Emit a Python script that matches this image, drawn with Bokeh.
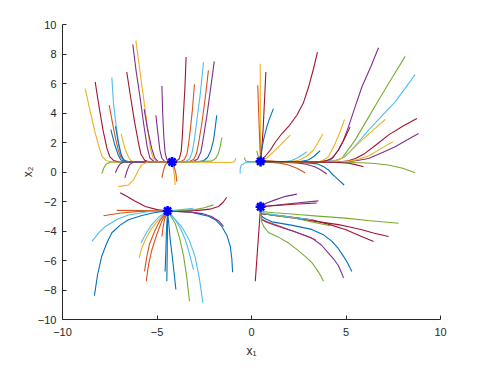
from bokeh.plotting import figure
from bokeh.models import Range1d, FixedTicker
from bokeh.embed import file_html
from bokeh.resources import INLINE

# MATLAB default colour order
C = {"b": "#0072BD", "o": "#D95319", "y": "#EDB120", "p": "#7E2F8E",
     "g": "#77AC30", "c": "#4DBEEE", "r": "#A2142F"}

# equilibria
eq_x = [-4.2, 0.48, -4.44, 0.48]
eq_y = [0.68, 0.72, -2.64, -2.36]

# ---- trajectories converging to upper-left equilibrium ----
tl_col = ["y", "r", "c", "o", "b", "b", "y", "r", "p", "y", "p", "p", "p",
          "g", "p", "p", "y", "o", "y", "o",
          "r", "o", "c", "o", "p", "b", "g", "y"]
tl_x = [
    [-8.80, -8.55, -8.30, -8.05, -7.9, -7.7, -7.4, -4.2],
    [-8.27, -8.05, -7.85, -7.65, -7.5, -7.3, -7.0, -4.2],
    [-7.39, -7.3, -7.15, -7.0, -6.88, -6.7, -6.4, -4.2],
    [-7.53, -7.35, -7.2, -7.05, -6.92, -6.75, -6.45, -4.2],
    [-7.2, -7.05, -6.9, -6.78, -6.6, -4.2],
    [-7.44, -7.25, -7.05, -6.92, -6.7, -4.2],
    [-6.9, -6.7, -6.52, -6.4, -6.2, -4.2],
    [-6.6, -6.4, -6.2, -6.0, -5.85, -5.65, -5.4, -4.2],
    [-6.28, -6.1, -5.9, -5.7, -5.52, -5.38, -5.15, -4.2],
    [-6.12, -5.92, -5.72, -5.5, -5.35, -5.2, -5.0, -4.2],
    [-5.68, -5.5, -5.28, -5.12, -4.95, -4.2],
    [-5.06, -4.95, -4.85, -4.75, -4.6, -4.2],
    [-4.74, -4.7, -4.64, -4.57, -4.48, -4.35, -4.2],
    [-7.92, -7.82, -7.7, -7.45, -4.2],
    [-7.2, -7.08, -6.95, -6.75, -4.2],
    [-6.7, -6.58, -6.45, -6.25, -4.2],
    [-7.04, -6.5, -6.24, -5.98, -5.8, -5.5, -4.2],
    [-4.74, -4.65, -4.55, -4.4, -4.2],
    [-4.04, -4.08, -4.15, -4.2],
    [-3.95, -4.0, -4.1, -4.2],
    [-3.46, -3.52, -3.6, -3.66, -3.72, -3.82, -4.0, -4.2],
    [-3.02, -3.12, -3.24, -3.34, -3.42, -3.55, -3.75, -4.2],
    [-2.54, -2.7, -2.89, -3.02, -3.14, -3.28, -3.5, -4.2],
    [-2.28, -2.45, -2.63, -2.78, -2.9, -3.05, -3.3, -4.2],
    [-1.97, -2.17, -2.37, -2.55, -2.68, -2.85, -3.1, -4.2],
    [-1.84, -1.92, -2.01, -2.15, -2.32, -2.52, -2.8, -4.2],
    [-1.57, -1.65, -1.75, -1.9, -2.1, -4.2],
    [-0.83, -0.88, -0.98, -1.2, -4.2],
]
tl_y = [
    [5.66, 4.2, 2.8, 1.6, 1.05, 0.78, 0.68, 0.68],
    [6.10, 4.3, 2.8, 1.6, 1.05, 0.78, 0.68, 0.68],
    [6.40, 4.6, 3.06, 1.7, 1.05, 0.78, 0.68, 0.68],
    [4.53, 3.3, 2.3, 1.5, 1.02, 0.78, 0.68, 0.68],
    [3.1, 2.0, 1.2, 0.85, 0.68, 0.68],
    [2.88, 1.9, 1.15, 0.83, 0.68, 0.68],
    [2.6, 1.6, 1.05, 0.8, 0.68, 0.68],
    [6.78, 5.1, 3.5, 2.1, 1.2, 0.8, 0.68, 0.68],
    [8.65, 6.8, 5.09, 3.2, 1.7, 0.95, 0.7, 0.68],
    [8.92, 7.0, 5.09, 3.0, 1.6, 0.92, 0.7, 0.68],
    [4.26, 2.9, 1.6, 0.95, 0.72, 0.68],
    [3.85, 2.6, 1.5, 0.95, 0.72, 0.68],
    [5.83, 4.0, 2.4, 1.3, 0.85, 0.7, 0.68],
    [-0.1, 0.25, 0.52, 0.68, 0.68],
    [-0.05, 0.3, 0.55, 0.68, 0.68],
    [-0.4, 0.1, 0.5, 0.68, 0.68],
    [-0.99, -0.88, -0.54, 0.14, 0.5, 0.68, 0.68],
    [-0.4, 0.15, 0.52, 0.66, 0.68],
    [-0.88, -0.2, 0.35, 0.68],
    [-0.65, -0.1, 0.4, 0.68],
    [7.79, 5.8, 3.97, 2.4, 1.4, 0.9, 0.72, 0.68],
    [5.95, 4.3, 2.84, 1.8, 1.2, 0.85, 0.7, 0.68],
    [7.45, 5.4, 3.51, 2.2, 1.35, 0.88, 0.7, 0.68],
    [6.89, 5.0, 3.29, 2.1, 1.3, 0.87, 0.7, 0.68],
    [7.5, 5.6, 3.74, 2.3, 1.35, 0.88, 0.7, 0.68],
    [3.85, 3.0, 2.16, 1.45, 1.0, 0.78, 0.7, 0.68],
    [2.34, 1.75, 1.26, 0.92, 0.74, 0.68],
    [0.95, 0.75, 0.66, 0.64, 0.68],
]

# ---- trajectories converging to upper-right equilibrium ----
tr_col = ["y", "r", "o", "b", "r", "y", "g", "c", "b", "y", "o", "p", "b",
          "p", "g", "c", "r", "p", "y", "y", "y", "r", "g", "r", "c", "g"]
tr_x = [
    [0.46, 0.47, 0.48],
    [0.76, 0.62, 0.5],
    [0.33, 0.42, 0.48],
    [1.16, 0.95, 0.81, 0.64, 0.54, 0.48],
    [3.49, 3.28, 3.02, 2.75, 2.4, 2.0, 1.61, 1.25, 1.0, 0.75, 0.55, 0.48],
    [2.05, 1.73, 1.43, 1.1, 0.81, 0.6, 0.48],
    [0.28, 0.35, 0.42, 0.48],
    [2.93, 2.5, 2.13, 1.6, 1.1, 0.48],
    [3.63, 3.3, 3.0, 2.5, 1.96, 1.0, 0.48],
    [3.77, 3.5, 3.28, 2.9, 2.5, 2.0, 1.5, 0.48],
    [2.84, 2.4, 1.96, 1.5, 1.08, 0.48],
    [3.98, 3.7, 3.35, 2.9, 2.5, 1.8, 1.2, 0.48],
    [4.9, 4.62, 4.4, 4.2, 4.07, 3.8, 3.5, 2.5, 0.48],
    [6.72, 6.3, 5.84, 5.45, 5.13, 4.85, 4.6, 4.35, 4.16, 3.6, 3.0, 0.48],
    [8.13, 7.4, 6.72, 6.05, 5.48, 5.05, 4.78, 4.4, 4.0, 3.0, 0.48],
    [8.66, 8.2, 7.6, 6.9, 6.19, 5.6, 5.13, 4.8, 4.6, 3.5, 0.48],
    [8.75, 8.0, 7.24, 6.6, 6.0, 5.5, 5.13, 4.6, 4.0, 0.48],
    [8.84, 8.2, 7.6, 6.9, 6.19, 5.6, 5.13, 4.6, 4.0, 0.48],
    [7.07, 6.45, 5.84, 5.35, 4.96, 4.5, 4.0, 0.48],
    [7.48, 6.8, 6.19, 5.6, 5.13, 4.6, 4.0, 0.48],
    [4.92, 4.68, 4.43, 4.22, 4.07, 3.8, 3.5, 0.48],
    [5.22, 4.9, 4.6, 4.4, 4.25, 3.95, 3.6, 0.48],
    [8.66, 8.0, 7.24, 6.5, 5.84, 4.0, 0.48],
    [5.93, 5.5, 5.13, 4.6, 4.0, 0.48],
    [-0.6, -0.6, -0.55, -0.3, 0.48],
    [-0.37, -0.35, -0.3, 0.0, 0.48],
]
tr_y = [
    [7.34, 3.0, 0.72],
    [6.78, 3.0, 0.72],
    [5.88, 2.5, 0.72],
    [4.3, 3.6, 3.06, 2.2, 1.49, 0.72],
    [8.13, 7.0, 5.76, 4.7, 3.85, 3.15, 2.61, 2.0, 1.49, 1.1, 0.85, 0.72],
    [2.5, 2.1, 1.71, 1.3, 0.95, 0.78, 0.72],
    [1.44, 1.1, 0.85, 0.72],
    [1.37, 1.0, 0.78, 0.68, 0.66, 0.72],
    [1.44, 1.05, 0.81, 0.7, 0.68, 0.68, 0.72],
    [2.57, 1.95, 1.49, 1.05, 0.8, 0.7, 0.68, 0.72],
    [-0.05, 0.25, 0.47, 0.6, 0.64, 0.72],
    [-0.14, 0.12, 0.36, 0.52, 0.6, 0.66, 0.68, 0.72],
    [-0.88, -0.55, -0.3, -0.05, 0.14, 0.38, 0.55, 0.66, 0.72],
    [8.42, 7.1, 5.76, 4.3, 3.06, 2.1, 1.49, 1.05, 0.81, 0.7, 0.66, 0.72],
    [7.84, 6.3, 4.86, 3.4, 2.16, 1.4, 0.93, 0.76, 0.7, 0.66, 0.72],
    [6.6, 5.8, 4.75, 3.8, 2.84, 1.95, 1.26, 0.95, 0.81, 0.66, 0.72],
    [3.63, 3.1, 2.5, 1.85, 1.26, 0.92, 0.76, 0.68, 0.66, 0.72],
    [2.61, 2.15, 1.71, 1.3, 0.92, 0.78, 0.7, 0.67, 0.66, 0.72],
    [3.56, 2.85, 2.16, 1.55, 1.04, 0.78, 0.68, 0.72],
    [2.05, 1.55, 1.08, 0.85, 0.72, 0.67, 0.66, 0.72],
    [3.56, 2.7, 1.94, 1.4, 1.04, 0.8, 0.68, 0.72],
    [3.06, 2.2, 1.49, 1.15, 0.93, 0.76, 0.68, 0.72],
    [-0.05, 0.25, 0.47, 0.58, 0.63, 0.66, 0.72],
    [0.36, 0.5, 0.59, 0.64, 0.66, 0.72],
    [-0.1, 0.2, 0.45, 0.65, 0.72],
    [0.99, 0.85, 0.75, 0.68, 0.72],
]

# ---- trajectories converging to lower-left equilibrium ----
bl_col = ["r", "o", "o", "c", "b", "y", "c", "o", "o", "o", "b", "b", "b",
          "g", "c", "c", "b", "p", "r", "g", "c"]
bl_x = [
    [-6.95, -6.6, -6.2, -5.62, -5.0, -4.44],
    [-7.83, -7.0, -6.0, -4.44],
    [-7.13, -6.0, -4.44],
    [-8.44, -8.1, -7.73, -7.1, -6.51, -5.5, -4.44],
    [-8.31, -8.15, -7.92, -7.65, -7.39, -6.95, -6.51, -5.8, -5.1, -4.44],
    [-5.94, -5.82, -5.62, -5.3, -4.92, -4.44],
    [-5.84, -5.6, -5.3, -4.9, -4.44],
    [-5.57, -5.45, -5.27, -5.0, -4.76, -4.44],
    [-5.66, -5.55, -5.4, -5.12, -4.85, -4.44],
    [-4.74, -4.68, -4.6, -4.44],
    [-4.57, -4.53, -4.5, -4.44],
    [-4.48, -4.46, -4.45, -4.44],
    [-4.0, -4.15, -4.3, -4.44],
    [-3.28, -3.42, -3.59, -3.8, -4.04, -4.44],
    [-2.57, -2.76, -2.99, -3.3, -3.7, -4.44],
    [-3.07, -3.28, -3.5, -3.75, -4.0, -4.44],
    [-1.0, -1.04, -1.12, -1.3, -1.57, -1.9, -2.28, -3.2, -4.44],
    [-1.48, -1.75, -2.12, -2.6, -3.2, -4.44],
    [-1.31, -1.5, -1.75, -2.2, -2.81, -4.44],
    [-2.01, -2.5, -3.0, -4.44],
    [-3.07, -4.44],
]
bl_y = [
    [-1.4, -1.65, -1.95, -2.34, -2.55, -2.64],
    [-2.97, -2.8, -2.68, -2.64],
    [-2.6, -2.62, -2.64],
    [-4.7, -4.15, -3.69, -3.2, -2.91, -2.7, -2.64],
    [-8.38, -7.0, -5.69, -4.8, -4.12, -3.6, -3.24, -2.95, -2.75, -2.64],
    [-5.83, -5.2, -4.59, -3.85, -3.24, -2.64],
    [-4.82, -4.2, -3.6, -3.05, -2.64],
    [-7.41, -6.3, -5.27, -4.2, -3.38, -2.64],
    [-6.74, -5.8, -4.9, -4.0, -3.3, -2.64],
    [-4.37, -3.75, -3.2, -2.64],
    [-6.74, -5.3, -4.0, -2.64],
    [-7.41, -5.6, -4.0, -2.64],
    [-7.97, -6.2, -4.59, -2.64],
    [-8.76, -7.2, -5.72, -4.5, -3.47, -2.64],
    [-8.87, -7.2, -5.72, -4.6, -3.7, -2.64],
    [-6.62, -5.55, -4.59, -3.85, -3.3, -2.64],
    [-6.8, -5.9, -5.05, -4.3, -3.69, -3.25, -3.0, -2.72, -2.64],
    [-3.69, -3.3, -3.02, -2.82, -2.72, -2.64],
    [-1.71, -2.05, -2.34, -2.52, -2.6, -2.64],
    [-2.23, -2.42, -2.55, -2.64],
    [-2.46, -2.64],
]

# ---- trajectories converging to lower-right equilibrium ----
br_col = ["p", "p", "r", "r", "g", "r", "r", "g", "b", "o", "p", "g", "c"]
br_x = [
    [2.4, 1.8, 1.25, 0.8, 0.48],
    [3.54, 2.0, 0.48],
    [3.45, 2.0, 0.48],
    [0.2, 0.48],
    [7.78, 6.3, 4.96, 3.5, 2.31, 1.2, 0.54, 0.48],
    [7.25, 6.5, 5.84, 5.2, 4.6, 3.4, 2.31, 1.2, 0.54, 0.48],
    [6.46, 5.7, 5.0, 4.1, 3.19, 1.8, 0.54, 0.48],
    [4.16, 3.2, 2.31, 1.2, 0.54, 0.48],
    [5.31, 5.1, 4.87, 4.6, 4.26, 3.8, 3.19, 2.1, 1.08, 0.7, 0.54, 0.48],
    [3.4, 2.4, 1.43, 0.8, 0.54, 0.48],
    [4.87, 4.75, 4.6, 4.35, 4.07, 3.7, 3.19, 2.3, 1.43, 0.8, 0.54, 0.48],
    [3.81, 3.65, 3.46, 3.2, 2.84, 2.4, 1.96, 1.4, 0.9, 0.65, 0.54, 0.48],
    [3.2, 2.3, 1.5, 0.8, 0.54, 0.48],
]
br_y = [
    [-1.5, -1.65, -1.89, -2.1, -2.36],
    [-1.96, -2.15, -2.36],
    [-2.1, -2.2, -2.36],
    [-7.41, -2.36],
    [-3.47, -3.3, -3.13, -2.99, -2.86, -2.76, -2.68, -2.36],
    [-4.37, -4.15, -3.92, -3.73, -3.57, -3.35, -3.13, -2.95, -2.8, -2.36],
    [-4.71, -4.3, -3.92, -3.55, -3.24, -3.0, -2.85, -2.36],
    [-3.65, -3.38, -3.13, -2.95, -2.8, -2.36],
    [-6.74, -6.2, -5.72, -5.2, -4.7, -4.25, -3.89, -3.6, -3.38, -3.15, -3.0, -2.36],
    [-4.6, -4.1, -3.65, -3.35, -3.2, -2.36],
    [-7.18, -6.8, -6.36, -5.9, -5.5, -4.95, -4.48, -4.05, -3.69, -3.4, -3.22, -2.36],
    [-7.41, -7.0, -6.62, -6.15, -5.72, -5.25, -4.82, -4.4, -4.1, -3.7, -3.38, -2.36],
    [-3.24, -3.1, -2.95, -2.82, -2.75, -2.36],
]

x_ticks = [-10, -5, 0, 5, 10]
y_ticks = [-10, -8, -6, -4, -2, 0, 2, 4, 6, 8, 10]

p = figure(width=475, height=360, output_backend="svg", toolbar_location=None,
           x_range=Range1d(-10, 10), y_range=Range1d(-10, 10),
           min_border_left=62, min_border_right=35, min_border_top=24,
           min_border_bottom=40)
p.outline_line_color = None
p.xgrid.visible = False
p.ygrid.visible = False

for cols, xs, ys in [(tl_col, tl_x, tl_y), (tr_col, tr_x, tr_y),
                     (bl_col, bl_x, bl_y), (br_col, br_x, br_y)]:
    p.multi_line(xs, ys, line_color=[C[c] for c in cols], line_width=1.1,
                 line_join="round")

p.scatter(eq_x, eq_y, marker="asterisk", size=10, line_width=2.6,
          line_color="#0000FF")

p.xaxis.ticker = FixedTicker(ticks=x_ticks)
p.yaxis.ticker = FixedTicker(ticks=y_ticks)
for ax in (p.xaxis[0], p.yaxis[0]):
    ax.axis_line_color = "#262626"
    ax.major_tick_line_color = "#262626"
    ax.minor_tick_line_color = None
    ax.major_tick_in = 4
    ax.major_tick_out = 0
    ax.major_label_text_font = "Liberation Sans"
    ax.major_label_text_font_size = "11px"
    ax.major_label_text_color = "#262626"
    ax.axis_label_text_font = "Liberation Sans"
    ax.axis_label_text_font_size = "12px"
    ax.axis_label_text_font_style = "normal"
    ax.axis_label_text_color = "#262626"
p.xaxis.major_label_standoff = 8
p.yaxis.major_label_standoff = 6
p.xaxis.axis_label = "x\u2081"
p.yaxis.axis_label = "x\u2082"
p.xaxis.axis_label_standoff = 5
p.yaxis.axis_label_standoff = 0

open("out.html", "w").write(file_html(p, INLINE))
